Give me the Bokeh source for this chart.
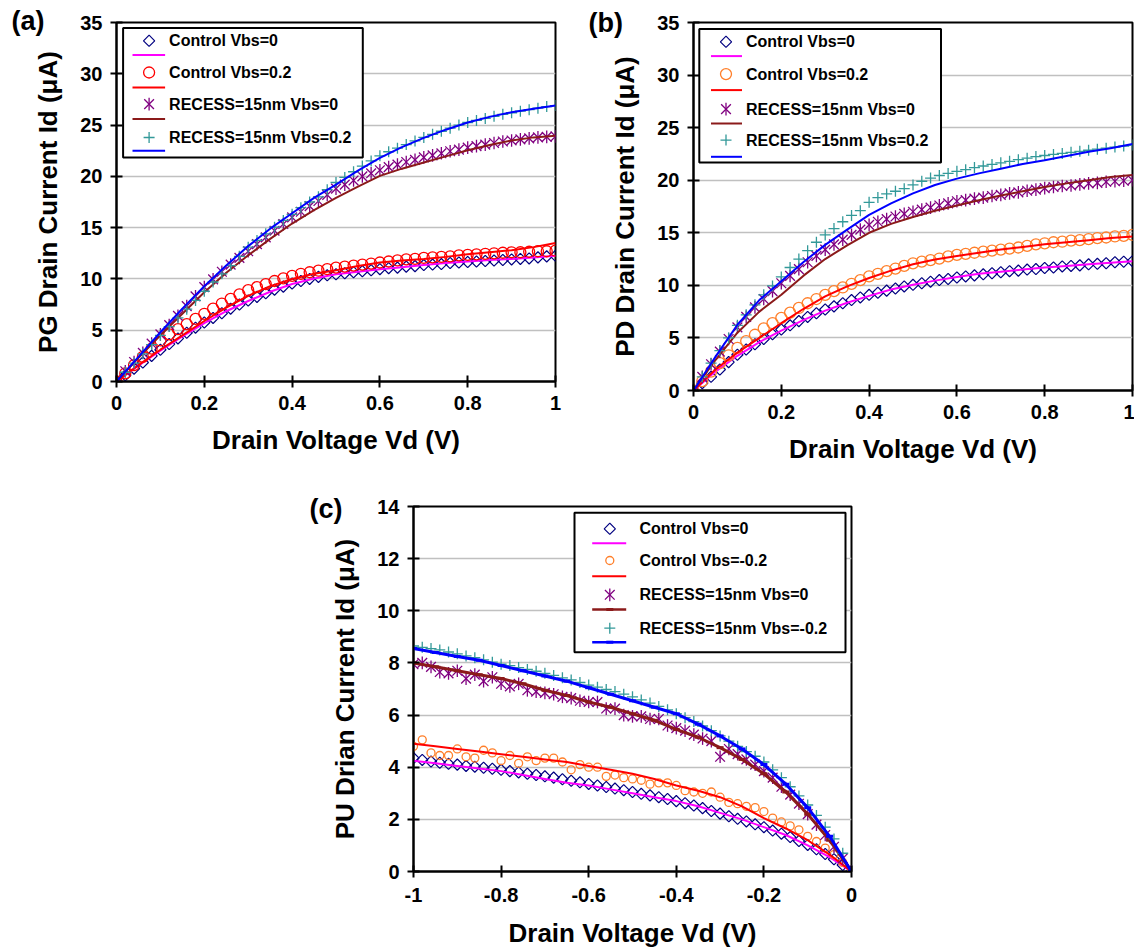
from bokeh.plotting import figure
from bokeh.models import Range1d, FixedTicker, Label, BoxAnnotation, Spacer
from bokeh.layouts import column, row
from bokeh.embed import file_html
from bokeh.resources import INLINE

FONT = "Liberation Sans"

# ---------------- data ----------------
VD_AB = [0.00, 0.02, 0.04, 0.06, 0.08, 0.10, 0.12, 0.14, 0.16, 0.18,
         0.20, 0.22, 0.24, 0.26, 0.28, 0.30, 0.32, 0.34, 0.36, 0.38,
         0.40, 0.42, 0.44, 0.46, 0.48, 0.50, 0.52, 0.54, 0.56, 0.58,
         0.60, 0.62, 0.64, 0.66, 0.68, 0.70, 0.72, 0.74, 0.76, 0.78,
         0.80, 0.82, 0.84, 0.86, 0.88, 0.90, 0.92, 0.94, 0.96, 0.98, 1.00]
VD_AB_LINE = [0.00, 0.05, 0.10, 0.15, 0.20, 0.25, 0.30, 0.35, 0.40, 0.45, 0.50,
              0.55, 0.60, 0.65, 0.70, 0.75, 0.80, 0.85, 0.90, 0.95, 1.00]
VD_C = [-1.00, -0.98, -0.96, -0.94, -0.92, -0.90, -0.88, -0.86, -0.84, -0.82,
        -0.80, -0.78, -0.76, -0.74, -0.72, -0.70, -0.68, -0.66, -0.64, -0.62,
        -0.60, -0.58, -0.56, -0.54, -0.52, -0.50, -0.48, -0.46, -0.44, -0.42,
        -0.40, -0.38, -0.36, -0.34, -0.32, -0.30, -0.28, -0.26, -0.24, -0.22,
        -0.20, -0.18, -0.16, -0.14, -0.12, -0.10, -0.08, -0.06, -0.04, -0.02, 0.00]
VD_C_LINE = [-1.00, -0.95, -0.90, -0.85, -0.80, -0.75, -0.70, -0.65, -0.60, -0.55, -0.50,
             -0.45, -0.40, -0.35, -0.30, -0.25, -0.20, -0.15, -0.10, -0.05, 0.00]

LABELS_AB = ["Control Vbs=0", "Control Vbs=0.2", "RECESS=15nm Vbs=0", "RECESS=15nm Vbs=0.2"]
LABELS_C = ["Control Vbs=0", "Control Vbs=-0.2", "RECESS=15nm Vbs=0", "RECESS=15nm Vbs=-0.2"]

XTICKS_AB = [0, 0.2, 0.4, 0.6, 0.8, 1]
XTICK_LABELS_AB = ["0", "0.2", "0.4", "0.6", "0.8", "1"]
XTICKS_C = [-1, -0.8, -0.6, -0.4, -0.2, 0]
XTICK_LABELS_C = ["-1", "-0.8", "-0.6", "-0.4", "-0.2", "0"]
YTICKS_AB = [0, 5, 10, 15, 20, 25, 30, 35]
YTICKS_C = [0, 2, 4, 6, 8, 10, 12, 14]

# (a) PG
A_CTRL0_PTS = [0, 0.6, 1.25, 1.85, 2.5, 3.1, 3.65, 4.2, 4.75, 5.25,
               5.75, 6.2, 6.65, 7.1, 7.5, 7.9, 8.25, 8.6, 8.95, 9.25,
               9.55, 9.8, 10.0, 10.2, 10.35, 10.45, 10.55, 10.65, 10.75, 10.85,
               10.95, 11.05, 11.1, 11.2, 11.25, 11.35, 11.4, 11.45, 11.55, 11.6,
               11.65, 11.7, 11.75, 11.8, 11.85, 11.9, 11.95, 12.0, 12.1, 12.2, 12.25]
A_CTRL0_LINE = [0, 1.55, 3.0, 4.4, 5.7, 6.85, 7.85, 8.75, 9.5, 10.05, 10.45,
                10.7, 10.95, 11.15, 11.35, 11.55, 11.7, 11.85, 11.95, 12.1, 12.25]
A_CTRL2_PTS = [0, 0.8, 1.6, 2.4, 3.2, 4.0, 4.6, 5.1, 5.6, 6.1,
               6.6, 7.1, 7.6, 8.05, 8.5, 8.9, 9.2, 9.5, 9.8, 10.05,
               10.3, 10.5, 10.65, 10.8, 10.95, 11.1, 11.2, 11.3, 11.4, 11.5,
               11.6, 11.7, 11.8, 11.9, 11.95, 12.05, 12.1, 12.15, 12.2, 12.3,
               12.35, 12.4, 12.45, 12.5, 12.55, 12.6, 12.6, 12.65, 12.7, 12.7, 12.75]
A_CTRL2_LINE = [0, 1.6, 3.1, 4.5, 5.9, 7.2, 8.35, 9.3, 10.0, 10.5, 10.85,
                11.25, 11.6, 11.8, 11.95, 12.15, 12.4, 12.6, 12.8, 13.1, 13.5]
A_REC0_PTS = [0, 1.0, 1.9, 2.8, 3.7, 4.6, 5.5, 6.4, 7.35, 8.3,
              9.2, 9.95, 10.7, 11.4, 12.05, 12.7, 13.4, 14.05, 14.7, 15.35,
              16.0, 16.55, 17.1, 17.6, 18.2, 18.8, 19.2, 19.6, 20.0, 20.3,
              20.6, 20.9, 21.15, 21.4, 21.6, 21.85, 22.05, 22.25, 22.45, 22.6,
              22.8, 22.95, 23.1, 23.25, 23.4, 23.5, 23.6, 23.7, 23.8, 23.85, 23.9]
A_REC0_LINE = [0, 2.3, 4.5, 6.6, 8.7, 10.6, 12.3, 13.9, 15.4, 16.7, 17.9,
               19.0, 20.05, 20.75, 21.35, 21.95, 22.55, 23.05, 23.5, 23.8, 23.95]
A_REC2_PTS = [0, 0.9, 1.8, 2.7, 3.6, 4.5, 5.35, 6.2, 7.05, 7.9,
              8.8, 9.7, 10.5, 11.3, 12.2, 13.1, 13.75, 14.4, 15.05, 15.7,
              16.3, 16.95, 17.5, 18.0, 18.7, 19.4, 19.9, 20.45, 21.0, 21.5,
              22.0, 22.4, 22.75, 23.1, 23.45, 23.8, 24.1, 24.4, 24.7, 25.0,
              25.25, 25.45, 25.65, 25.85, 26.05, 26.2, 26.35, 26.5, 26.65, 26.8, 26.9]
A_REC2_LINE = [0, 2.4, 4.8, 7.1, 9.3, 11.3, 13.2, 14.9, 16.4, 17.9, 19.2,
               20.55, 21.8, 22.85, 23.75, 24.55, 25.25, 25.8, 26.25, 26.6, 26.9]

# (b) PD
B_CTRL0_PTS = [0, 0.7, 1.3, 2.0, 2.7, 3.4, 3.9, 4.4, 4.9, 5.35,
               5.8, 6.2, 6.6, 7.0, 7.35, 7.7, 8.0, 8.3, 8.6, 8.85,
               9.1, 9.3, 9.5, 9.7, 9.9, 10.05, 10.2, 10.35, 10.5, 10.6,
               10.75, 10.85, 10.95, 11.05, 11.15, 11.25, 11.35, 11.4, 11.5, 11.55,
               11.65, 11.7, 11.8, 11.85, 11.9, 12.0, 12.05, 12.1, 12.2, 12.25, 12.3]
B_CTRL0_LINE = [0, 1.8, 3.3, 4.6, 5.7, 6.7, 7.6, 8.35, 9.0, 9.6, 10.05,
                10.45, 10.8, 11.1, 11.3, 11.5, 11.7, 11.85, 12.0, 12.15, 12.3]
B_CTRL2_PTS = [0, 0.9, 1.8, 2.6, 3.35, 4.05, 4.7, 5.3, 5.9, 6.4,
               6.9, 7.4, 7.85, 8.3, 8.7, 9.1, 9.45, 9.8, 10.15, 10.5,
               10.85, 11.1, 11.35, 11.6, 11.85, 12.1, 12.25, 12.4, 12.55, 12.75,
               12.9, 13.0, 13.1, 13.2, 13.3, 13.4, 13.5, 13.6, 13.75, 13.9,
               14.0, 14.1, 14.15, 14.25, 14.3, 14.4, 14.5, 14.55, 14.65, 14.7, 14.8]
B_CTRL2_LINE = [0, 2.0, 3.6, 5.0, 6.4, 7.75, 8.95, 9.9, 10.7, 11.4, 12.0,
                12.45, 12.8, 13.1, 13.4, 13.65, 13.9, 14.1, 14.3, 14.5, 14.65]
B_REC0_PTS = [0, 1.3, 2.5, 3.7, 4.9, 6.0, 7.0, 7.9, 8.7, 9.45,
              10.2, 10.9, 11.55, 12.2, 12.8, 13.4, 13.9, 14.35, 14.8, 15.3,
              15.75, 16.05, 16.3, 16.55, 16.8, 17.0, 17.2, 17.4, 17.6, 17.8,
              18.0, 18.1, 18.25, 18.35, 18.5, 18.6, 18.75, 18.85, 19.0, 19.1,
              19.25, 19.35, 19.45, 19.5, 19.6, 19.7, 19.75, 19.85, 19.9, 19.95, 20.0]
B_REC0_LINE = [0, 2.9, 5.5, 7.5, 9.1, 10.9, 12.5, 13.8, 15.0, 15.85, 16.5,
               17.1, 17.6, 18.1, 18.55, 18.95, 19.35, 19.7, 20.0, 20.3, 20.5]
B_REC2_PTS = [0, 1.3, 2.6, 3.8, 5.0, 6.2, 7.2, 8.15, 9.1, 9.95,
              10.8, 11.7, 12.5, 13.3, 14.1, 14.8, 15.4, 16.05, 16.65, 17.1,
              17.9, 18.35, 18.7, 18.95, 19.2, 19.55, 19.9, 20.2, 20.45, 20.65,
              20.85, 21.0, 21.2, 21.35, 21.5, 21.65, 21.8, 21.95, 22.1, 22.25,
              22.35, 22.45, 22.55, 22.65, 22.75, 22.85, 22.95, 23.05, 23.15, 23.25, 23.35]
B_REC2_LINE = [0, 3.2, 6.25, 8.6, 10.4, 12.2, 13.85, 15.3, 16.7, 17.8, 18.75,
               19.55, 20.15, 20.65, 21.1, 21.55, 21.9, 22.3, 22.7, 23.05, 23.45]

# (c) PU
C_CTRL0_PTS = [4.35, 4.28, 4.22, 4.17, 4.13, 4.1, 4.05, 4.02, 3.98, 3.94,
               3.9, 3.85, 3.8, 3.75, 3.7, 3.65, 3.6, 3.54, 3.48, 3.42,
               3.36, 3.3, 3.24, 3.18, 3.12, 3.05, 2.98, 2.92, 2.85, 2.78,
               2.7, 2.62, 2.53, 2.43, 2.32, 2.22, 2.12, 2.02, 1.92, 1.81,
               1.7, 1.57, 1.45, 1.32, 1.17, 1.02, 0.85, 0.67, 0.47, 0.25, 0.0]
C_CTRL0_LINE = [4.25, 4.15, 4.05, 3.95, 3.85, 3.7, 3.55, 3.4, 3.3, 3.15, 3.0,
                2.85, 2.7, 2.5, 2.25, 2.0, 1.7, 1.4, 1.0, 0.55, 0.0]
C_CTRL2_PTS = [4.8, 5.05, 4.55, 4.45, 4.45, 4.7, 4.4, 4.35, 4.65, 4.55,
               4.25, 4.45, 4.15, 4.4, 4.25, 4.35, 4.35, 4.2, 3.9, 4.1,
               4.0, 4.0, 3.65, 3.7, 3.6, 3.55, 3.5, 3.35, 3.4, 3.4,
               3.3, 3.1, 3.05, 3.0, 3.05, 2.85, 2.65, 2.6, 2.5, 2.45,
               2.3, 2.05, 1.9, 1.75, 1.6, 1.35, 1.15, 0.9, 0.65, 0.35, 0.0]
C_CTRL2_LINE = [4.9, 4.8, 4.7, 4.6, 4.5, 4.4, 4.3, 4.2, 4.05, 3.9, 3.75,
                3.55, 3.3, 3.1, 2.85, 2.5, 2.05, 1.65, 1.2, 0.65, 0.0]
C_REC0_PTS = [7.95, 8.0, 7.85, 7.65, 7.6, 7.7, 7.4, 7.55, 7.3, 7.45,
              7.2, 7.1, 7.2, 6.95, 6.9, 6.85, 6.8, 6.7, 6.65, 6.55,
              6.5, 6.5, 6.25, 6.25, 6.0, 5.95, 5.95, 5.85, 5.85, 5.6,
              5.5, 5.4, 5.25, 5.1, 5.0, 4.4, 4.7, 4.5, 4.3, 4.1,
              3.85, 3.6, 3.25, 2.95, 2.6, 2.2, 1.8, 1.4, 0.95, 0.5, 0.0]
C_REC0_LINE = [8.0, 7.85, 7.7, 7.55, 7.4, 7.2, 6.95, 6.75, 6.5, 6.3, 6.05,
               5.8, 5.45, 5.15, 4.75, 4.3, 3.75, 3.05, 2.2, 1.2, 0.0]
C_REC2_PTS = [8.65, 8.6, 8.55, 8.5, 8.42, 8.35, 8.27, 8.2, 8.12, 8.03,
              7.95, 7.9, 7.82, 7.75, 7.68, 7.6, 7.52, 7.43, 7.35, 7.25,
              7.15, 7.07, 6.98, 6.9, 6.8, 6.7, 6.58, 6.46, 6.33, 6.2,
              6.05, 5.9, 5.75, 5.58, 5.4, 5.2, 5.0, 4.8, 4.6, 4.42,
              4.2, 3.9, 3.6, 3.25, 2.9, 2.55, 2.15, 1.7, 1.25, 0.7, 0.0]
C_REC2_LINE = [8.55, 8.4, 8.25, 8.1, 7.9, 7.7, 7.5, 7.3, 7.05, 6.8, 6.55,
               6.3, 6.05, 5.65, 5.2, 4.7, 4.1, 3.35, 2.45, 1.35, 0.0]

# ---------------- styles ----------------
NAVY = "#000080"
RED = "#FF0000"
ORANGE = "#FF7F2A"
PURPLE = "#800080"
TEAL = "#339999"
MAGENTA = "#FF00FF"
DARKRED = "#8B1A1A"
BLUE = "#0000FF"
HALF_PI = 1.5707963268
QUARTER_PI = 0.7853981634


def draw_marker(p, xs, ys, kind, color, size, **extra):
    if kind == "diamond":
        p.scatter(xs, ys, marker="square", angle=QUARTER_PI, size=size * 0.72,
                  fill_color=None, line_color=color, line_width=1.2, **extra)
    elif kind == "asterisk":
        p.scatter(xs, ys, marker="x", size=size * 1.25, line_color=color, line_width=1.3, **extra)
        p.scatter(xs, ys, marker="dash", angle=HALF_PI, size=size * 1.15,
                  line_color=color, line_width=1.3, **extra)
    else:
        p.scatter(xs, ys, marker=kind, size=size, fill_color=None, line_color=color,
                  line_width=1.3, **extra)


def make_panel(cfg):
    x0, x1 = cfg["xr"]
    y0, y1 = cfg["yr"]
    fw, fh = cfg["fw"], cfg["fh"]

    def px(v):
        return x0 + v / fw * (x1 - x0)

    def py(v):
        return y1 - v / fh * (y1 - y0)

    p = figure(frame_width=fw, frame_height=fh,
               x_range=Range1d(x0, x1), y_range=Range1d(y0, y1),
               output_backend="svg", toolbar_location=None,
               min_border_left=cfg["ml"], min_border_right=cfg["mr"],
               min_border_top=cfg["mt"], min_border_bottom=cfg["mb"],
               background_fill_color="white", border_fill_color="white")
    p.outline_line_color = "black"
    p.outline_line_width = 2

    # panel tag "(a)" etc. drawn as the figure title, shifted to the top-left corner
    p.title.text = cfg["tag"]
    p.title.align = "left"
    p.title.vertical_align = "bottom"
    p.title.offset = cfg["tag_offset"]
    p.title.standoff = cfg["tag_standoff"]
    p.title.text_font = FONT
    p.title.text_font_style = "bold"
    p.title.text_font_size = "27px"
    p.title.text_color = "black"

    xt = FixedTicker(ticks=cfg["xticks"])
    yt = FixedTicker(ticks=cfg["yticks"])
    p.xaxis.ticker = xt
    p.yaxis.ticker = yt
    p.xgrid.ticker = xt
    p.ygrid.ticker = yt
    p.xaxis.major_label_overrides = dict(zip(cfg["xticks"], cfg["xlabels"]))
    p.xgrid.grid_line_color = None
    p.ygrid.grid_line_color = "#C0C0C0"
    p.ygrid.grid_line_width = 1.5

    for ax in (p.xaxis[0], p.yaxis[0]):
        ax.axis_line_width = 2
        ax.axis_line_color = "black"
        ax.major_tick_line_width = 2
        ax.major_tick_line_color = "black"
        ax.major_tick_in = 6
        ax.major_tick_out = 6
        ax.minor_tick_line_color = None
        ax.major_label_text_font = FONT
        ax.major_label_text_font_style = "bold"
        ax.major_label_text_font_size = "20px"
        ax.major_label_text_color = "black"
        ax.major_label_standoff = cfg.get("xstand", 8)
        ax.axis_label_text_font = FONT
        ax.axis_label_text_font_style = "bold"
        ax.axis_label_text_font_size = "26px"
        ax.axis_label_text_color = "black"
    p.yaxis.major_label_standoff = 8
    p.xaxis.axis_label = "Drain Voltage Vd (V)"
    p.xaxis.axis_label_standoff = cfg.get("xlabstand", 12)
    p.yaxis.axis_label = cfg["ylabel"]
    p.yaxis.axis_label_standoff = 14

    # data series
    for s in cfg["series"]:
        draw_marker(p, cfg["xp"], s["pts"], s["marker"], s["mcolor"], s["msize"])
        p.line(cfg["xl"], s["line"], line_color=s["lcolor"], line_width=s["lwidth"])
        if s.get("dash"):
            p.scatter(cfg["xl"], s["line"], marker="dash", size=7,
                      line_color=s["lcolor"], line_width=3)

    # legend (Excel style: marker row + line row)
    lg = cfg["legend"]
    bl, bt, br, bb = lg["box"]
    p.add_layout(BoxAnnotation(left=px(bl), right=px(br), top=py(bt), bottom=py(bb),
                               fill_color="white", fill_alpha=1.0,
                               line_color="black", line_width=2, line_alpha=1.0,
                               level="annotation"))
    for i, s in enumerate(cfg["series"]):
        my = py(lg["my"][i])
        ly = py(lg["ly"][i])
        draw_marker(p, [px(lg["mx"])], [my], s["marker"], s["mcolor"], s["msize"], level="overlay")
        p.segment(x0=[px(lg["lx"][0])], y0=[ly], x1=[px(lg["lx"][1])], y1=[ly],
                  line_color=s["lcolor"], line_width=min(s["lwidth"], 2.5), level="overlay")
        if s.get("dash"):
            p.scatter([px(lg["mx"])], [ly], marker="dash", size=7, line_color=s["lcolor"],
                      line_width=3, level="overlay")
        p.add_layout(Label(x=px(lg["tx"]), y=my, text=cfg["labels"][i],
                           text_font=FONT, text_font_style="bold", text_font_size="16px",
                           text_color="black", text_align="left", text_baseline="middle",
                           level="overlay"))
    return p


cfg_a = dict(
    xr=(0, 1), yr=(0, 35), fw=439, fh=359, ml=116, mr=15, mt=22, mb=89,
    xticks=XTICKS_AB, xlabels=XTICK_LABELS_AB, yticks=YTICKS_AB,
    ylabel="PG Drain Current Id (\u03bcA)", xp=VD_AB, xl=VD_AB_LINE, labels=LABELS_AB,
    series=[
        dict(pts=A_CTRL0_PTS, line=A_CTRL0_LINE, marker="diamond", mcolor=NAVY, msize=11, lcolor=MAGENTA, lwidth=2),
        dict(pts=A_CTRL2_PTS, line=A_CTRL2_LINE, marker="circle", mcolor=RED, msize=11, lcolor=RED, lwidth=2),
        dict(pts=A_REC0_PTS, line=A_REC0_LINE, marker="asterisk", mcolor=PURPLE, msize=11, lcolor=DARKRED, lwidth=2),
        dict(pts=A_REC2_PTS, line=A_REC2_LINE, marker="cross", mcolor=TEAL, msize=11, lcolor=BLUE, lwidth=2),
    ],
    legend=dict(box=(6.6, 5.6, 246.3, 135.0), mx=32.6, lx=(16.0, 48.6), tx=52.6,
                my=[18.3, 50.0, 81.6, 115.0], ly=[32.6, 65.0, 96.6, 128.3]),
    tag="(a)", tag_offset=-105, tag_standoff=-26,
)

cfg_b = dict(
    xr=(0, 1), yr=(0, 35), fw=439, fh=368, ml=123, mr=2, mt=21, mb=81,
    xticks=XTICKS_AB, xlabels=XTICK_LABELS_AB, yticks=YTICKS_AB,
    ylabel="PD Drain Current Id (\u03bcA)", xp=VD_AB, xl=VD_AB_LINE, labels=LABELS_AB,
    series=[
        dict(pts=B_CTRL0_PTS, line=B_CTRL0_LINE, marker="diamond", mcolor=NAVY, msize=11, lcolor=MAGENTA, lwidth=2),
        dict(pts=B_CTRL2_PTS, line=B_CTRL2_LINE, marker="circle", mcolor=ORANGE, msize=11, lcolor=RED, lwidth=2),
        dict(pts=B_REC0_PTS, line=B_REC0_LINE, marker="asterisk", mcolor=PURPLE, msize=11, lcolor=DARKRED, lwidth=2),
        dict(pts=B_REC2_PTS, line=B_REC2_LINE, marker="cross", mcolor=TEAL, msize=11, lcolor=BLUE, lwidth=2),
    ],
    legend=dict(box=(5.8, 6.6, 247.5, 140.0), mx=32.5, lx=(17.5, 48.5), tx=52.5,
                my=[19.3, 51.6, 86.6, 117.6], ly=[33.6, 67.6, 101.0, 134.3]),
    tag="(b)", tag_offset=-105, tag_standoff=-31,
)

cfg_c = dict(
    xr=(-1, 0), yr=(0, 14), fw=438, fh=365, ml=123, mr=60, mt=36, mb=81,
    xticks=XTICKS_C, xlabels=XTICK_LABELS_C, yticks=YTICKS_C, xstand=10, xlabstand=13,
    ylabel="PU Drian Current Id (\u03bcA)", xp=VD_C, xl=VD_C_LINE, labels=LABELS_C,
    series=[
        dict(pts=C_CTRL0_PTS, line=C_CTRL0_LINE, marker="diamond", mcolor=NAVY, msize=11, lcolor=MAGENTA, lwidth=2),
        dict(pts=C_CTRL2_PTS, line=C_CTRL2_LINE, marker="circle", mcolor=ORANGE, msize=8, lcolor=RED, lwidth=2),
        dict(pts=C_REC0_PTS, line=C_REC0_LINE, marker="asterisk", mcolor=PURPLE, msize=11, lcolor=DARKRED, lwidth=3, dash=True),
        dict(pts=C_REC2_PTS, line=C_REC2_LINE, marker="cross", mcolor=TEAL, msize=11, lcolor=BLUE, lwidth=3, dash=True),
    ],
    legend=dict(box=(161.0, 6.3, 432.0, 145.7), mx=196.3, lx=(178.7, 212.7), tx=226.0,
                my=[22.3, 54.0, 88.3, 121.7], ly=[36.7, 69.7, 103.0, 135.7]),
    tag="(c)", tag_offset=-104, tag_standoff=-35,
)

pa = make_panel(cfg_a)
pb = make_panel(cfg_b)
pc = make_panel(cfg_c)

layout = column(row(pa, pb), row(Spacer(width=290, height=10), pc))
open("out.html", "w").write(file_html(layout, INLINE))
